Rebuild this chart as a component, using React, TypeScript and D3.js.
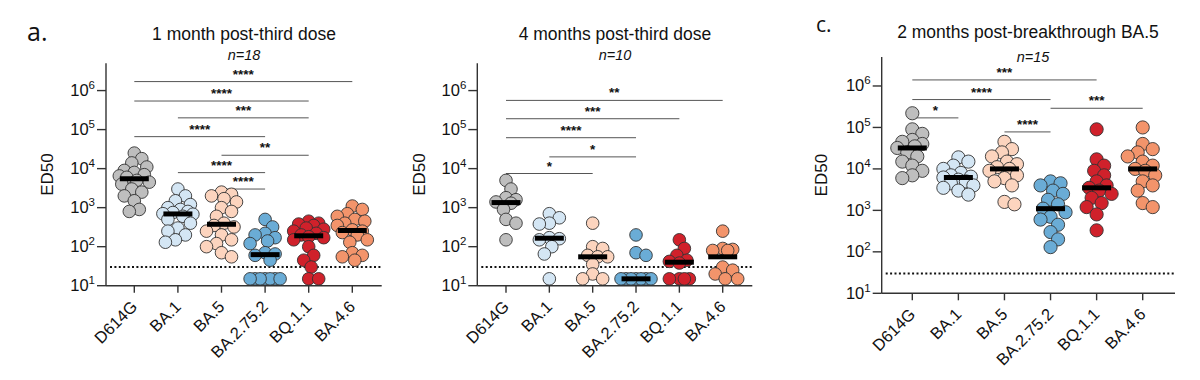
import React from "react";
import * as d3 from "d3";

const CATEGORIES = ["D614G", "BA.1", "BA.5", "BA.2.75.2", "BQ.1.1", "BA.4.6"];
const Y_TICKS = [1e1, 1e2, 1e3, 1e4, 1e5, 1e6];
const Y_DOMAIN: [number, number] = [10, 5e6];
const LOD = 30;

// Panel a: 1 month post-third dose (n=18)
const a_D614G = [25000, 18000, 14000, 11000, 9000, 8000, 7000, 6500, 6000, 5000, 4500, 4000, 3000, 2500, 2000, 1500, 900, 800];
const a_BA1 = [3000, 2000, 1500, 1200, 1000, 900, 800, 750, 700, 680, 600, 500, 400, 300, 250, 200, 150, 130];
const a_BA5 = [2500, 2200, 2000, 1700, 1400, 1000, 800, 600, 400, 350, 320, 250, 200, 150, 120, 100, 70, 55];
const a_BA2752 = [500, 320, 220, 200, 170, 140, 120, 70, 65, 60, 45, 15, 15, 15, 15, 15, 15, 15];
const a_BQ11 = [450, 400, 380, 350, 300, 280, 250, 220, 200, 180, 170, 150, 100, 60, 45, 30, 15, 15];
const a_BA46 = [1100, 900, 700, 600, 500, 450, 400, 350, 270, 250, 230, 200, 150, 130, 70, 60, 55, 45];

// Panel b: 4 months post-third dose (n=10)
const b_D614G = [5000, 3000, 1800, 1600, 1400, 1300, 900, 500, 400, 150];
const b_BA1 = [700, 550, 400, 380, 170, 160, 150, 100, 65, 15];
const b_BA5 = [400, 100, 90, 60, 55, 55, 35, 20, 15, 15];
const b_BA2752 = [200, 70, 60, 15, 15, 15, 15, 15, 15, 15];
const b_BQ11 = [150, 90, 60, 45, 42, 38, 15, 15, 15, 15];
const b_BA46 = [250, 90, 85, 80, 80, 30, 25, 20, 15, 15];

// Panel c: 2 months post-breakthrough BA.5 (n=15)
const c_D614G = [220000, 90000, 70000, 50000, 45000, 40000, 35000, 32000, 25000, 20000, 15000, 12000, 9000, 7000, 6000];
const c_BA1 = [19000, 15000, 12000, 10000, 8000, 7000, 6500, 6200, 5500, 5000, 4500, 4000, 3500, 3000, 2400];
const c_BA5 = [45000, 30000, 25000, 20000, 15000, 13000, 11000, 10000, 9000, 7000, 6000, 5000, 4000, 1600, 1400];
const c_BA2752 = [5000, 4500, 4000, 3000, 2500, 1800, 1400, 1100, 900, 700, 600, 450, 300, 200, 130];
const c_BQ11 = [90000, 17000, 12000, 9000, 7000, 5000, 4000, 3500, 3000, 2500, 2000, 1500, 1200, 800, 330];
const c_BA46 = [100000, 40000, 30000, 25000, 20000, 15000, 12000, 10000, 9000, 7000, 5000, 4000, 3000, 1500, 1200];

// Significance comparisons: [from, to, level (ED50 height), label]
const a_SIG: [string, string, number, string][] = [
  ["D614G", "BA.4.6", 1.7e6, "****"],
  ["D614G", "BQ.1.1", 5.4e5, "****"],
  ["BA.1", "BQ.1.1", 2.0e5, "***"],
  ["D614G", "BA.2.75.2", 6.6e4, "****"],
  ["BA.5", "BQ.1.1", 2.2e4, "**"],
  ["BA.1", "BA.2.75.2", 7.9e3, "****"],
  ["BA.5", "BA.2.75.2", 3.0e3, "****"],
];
const b_SIG: [string, string, number, string][] = [
  ["D614G", "BA.4.6", 5.6e5, "**"],
  ["D614G", "BQ.1.1", 1.9e5, "***"],
  ["D614G", "BA.2.75.2", 6.2e4, "****"],
  ["BA.1", "BA.2.75.2", 2.0e4, "*"],
  ["D614G", "BA.5", 7.5e3, "*"],
];
const c_SIG: [string, string, number, string][] = [
  ["D614G", "BQ.1.1", 1.4e6, "***"],
  ["D614G", "BA.2.75.2", 4.7e5, "****"],
  ["BA.2.75.2", "BA.4.6", 2.9e5, "***"],
  ["D614G", "BA.1", 1.7e5, "*"],
  ["BA.5", "BA.2.75.2", 7.8e4, "****"],
];

const FILLS = ["#bebebe", "#d4e6f4", "#fcd4be", "#6aacd6", "#d0212b", "#f3946b"];
const FONT = "'Liberation Sans', Arial, Helvetica, sans-serif";

type Cfg = {
  series: number[][];
  sig: [string, string, number, string][];
  title: string;
  n: string;
  letter?: string;
  letterX?: number;
  letterY?: number;
  letterSize?: number;
  axisX: number;
  catStart: number;
  catEnd: number;
  xEnd: number;
  yTop: number;
  yBottom: number;
  titleX: number;
  titleY: number;
  nX: number;
  nY: number;
  labelX: number;
  r: number;
};

function swarm(values: number[], y: (v: number) => number, r: number) {
  const order = values.map((v, i) => i).sort((i, j) => values[j] - values[i]);
  const placed: { x: number; y: number }[] = [];
  const offsets = new Array(values.length).fill(0);
  const minDist = r * 1.45;
  const step = 2.5;
  const maxOff = 15;
  for (const i of order) {
    const py = y(values[i]);
    let best = 0;
    let bestD = -1;
    const cands: number[] = [0];
    for (let k = step; k <= maxOff; k += step) cands.push(k, -k);
    for (const c of cands) {
      let md = Infinity;
      for (const p of placed) md = Math.min(md, Math.hypot(p.x - c, p.y - py));
      if (md >= minDist) {
        best = c;
        bestD = md;
        break;
      }
      if (md > bestD) {
        bestD = md;
        best = c;
      }
    }
    offsets[i] = best;
    placed.push({ x: best, y: py });
  }
  return offsets;
}

function Panel({ cfg }: { cfg: Cfg }) {
  const y = d3.scaleLog().domain(Y_DOMAIN).range([cfg.yBottom, cfg.yTop]);
  const x = d3.scalePoint<string>().domain(CATEGORIES).range([cfg.catStart, cfg.catEnd]);
  const midY = (cfg.yTop + cfg.yBottom) / 2;
  return (
    <g fontFamily={FONT}>
      {cfg.letter && (
        <text x={cfg.letterX} y={cfg.letterY} fontSize={cfg.letterSize} fontFamily="'Open Sans', sans-serif" fill="#111">
          {cfg.letter}
        </text>
      )}
      <text x={cfg.titleX} y={cfg.titleY} fontSize={17.5} textAnchor="middle" fill="#111">
        {cfg.title}
      </text>
      <text x={cfg.nX} y={cfg.nY} fontSize={14.5} fontStyle="italic" textAnchor="middle" fill="#111">
        {cfg.n}
      </text>
      <text
        transform={`translate(${cfg.labelX},${midY}) rotate(-90)`}
        fontSize={17}
        textAnchor="middle"
        dominantBaseline="central"
        fill="#111"
      >
        ED50
      </text>
      {cfg.sig.map(([a, b, lvl, lab], i) => {
        const x1 = x(a)!;
        const x2 = x(b)!;
        const yy = y(lvl);
        return (
          <g key={"s" + i}>
            <line x1={x1} x2={x2} y1={yy} y2={yy} stroke="#555" strokeWidth={1} />
            <text x={(x1 + x2) / 2} y={yy - 3} fontSize={13.5} fontWeight="bold" textAnchor="middle" fill="#111">
              {lab}
            </text>
          </g>
        );
      })}
      <line
        x1={cfg.axisX + 4}
        x2={cfg.xEnd}
        y1={y(LOD)}
        y2={y(LOD)}
        stroke="#111"
        strokeWidth={2}
        strokeDasharray="2 2.4"
      />
      {cfg.series.map((vals, si) => {
        const offs = swarm(vals, (v) => y(v), cfg.r);
        const cx = x(CATEGORIES[si])!;
        const med = d3.median(vals)!;
        return (
          <g key={"p" + si}>
            {vals.map((v, i) => (
              <circle key={i} cx={cx + offs[i]} cy={y(v)} r={cfg.r} fill={FILLS[si]} stroke="#333" strokeWidth={0.9} />
            ))}
            <line x1={cx - 14.5} x2={cx + 14.5} y1={y(med)} y2={y(med)} stroke="#000" strokeWidth={5} />
          </g>
        );
      })}
      <line x1={cfg.axisX} x2={cfg.axisX} y1={cfg.yTop} y2={cfg.yBottom} stroke="#333" strokeWidth={1.4} />
      <line x1={cfg.axisX} x2={cfg.xEnd} y1={cfg.yBottom} y2={cfg.yBottom} stroke="#333" strokeWidth={1.4} />
      {Y_TICKS.map((t) => (
        <g key={"yt" + t}>
          <line x1={cfg.axisX - 9} x2={cfg.axisX} y1={y(t)} y2={y(t)} stroke="#333" strokeWidth={1.4} />
          <text x={cfg.axisX - 11} y={y(t) + 5.5} fontSize={16.5} textAnchor="end" fill="#111">
            10
            <tspan fontSize={11.5} dy={-7}>
              {Math.round(Math.log10(t))}
            </tspan>
          </text>
        </g>
      ))}
      {CATEGORIES.map((c) => (
        <g key={"xt" + c}>
          <line x1={x(c)!} x2={x(c)!} y1={cfg.yBottom} y2={cfg.yBottom + 7} stroke="#333" strokeWidth={1.4} />
          <text
            transform={`translate(${x(c)! + 4},${cfg.yBottom + 22}) rotate(-45)`}
            fontSize={16.5}
            textAnchor="end"
            fill="#111"
          >
            {c}
          </text>
        </g>
      ))}
    </g>
  );
}

const PANELS: Cfg[] = [
  {
    series: [a_D614G, a_BA1, a_BA5, a_BA2752, a_BQ11, a_BA46],
    sig: a_SIG,
    title: "1 month post-third dose",
    n: "n=18",
    letter: "a.",
    letterX: 27,
    letterY: 41,
    letterSize: 25,
    axisX: 106,
    catStart: 134.3,
    catEnd: 352.3,
    xEnd: 381.7,
    yTop: 63.3,
    yBottom: 285.7,
    titleX: 244,
    titleY: 40,
    nX: 244,
    nY: 60,
    labelX: 47.5,
    r: 6.3,
  },
  {
    series: [b_D614G, b_BA1, b_BA5, b_BA2752, b_BQ11, b_BA46],
    sig: b_SIG,
    title: "4 months post-third dose",
    n: "n=10",
    axisX: 477.3,
    catStart: 506,
    catEnd: 722.7,
    xEnd: 752.3,
    yTop: 63.3,
    yBottom: 285.7,
    titleX: 615,
    titleY: 40,
    nX: 615,
    nY: 60,
    labelX: 419.5,
    r: 6.3,
  },
  {
    series: [c_D614G, c_BA1, c_BA5, c_BA2752, c_BQ11, c_BA46],
    sig: c_SIG,
    title: "2 months post-breakthrough BA.5",
    n: "n=15",
    letter: "c.",
    letterX: 816,
    letterY: 32,
    letterSize: 21,
    axisX: 881.7,
    catStart: 912.3,
    catEnd: 1142.7,
    xEnd: 1175,
    yTop: 57,
    yBottom: 293.3,
    titleX: 1028,
    titleY: 38,
    nX: 1033,
    nY: 62,
    labelX: 821,
    r: 6.6,
  },
];

export default function App() {
  return (
    <svg width={1200} height={380} style={{ position: "absolute", left: 0, top: 0, background: "#fff" }}>
      <rect width={1200} height={380} fill="#fff" />
      {PANELS.map((p, i) => (
        <Panel key={i} cfg={p} />
      ))}
    </svg>
  );
}
